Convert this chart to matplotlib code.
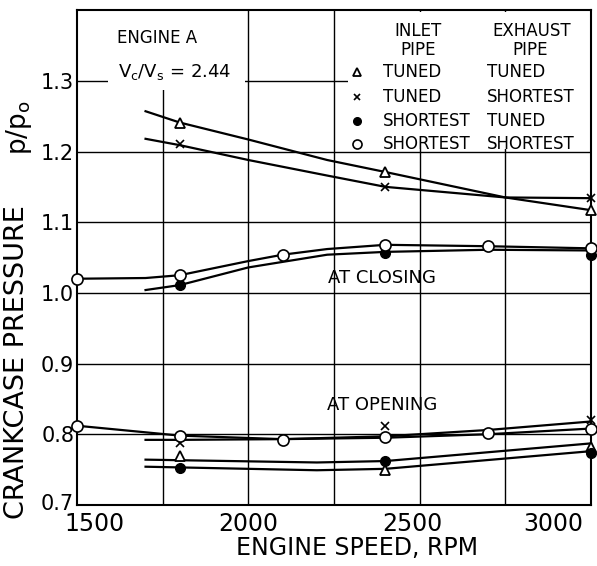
import matplotlib
matplotlib.use("Agg")
import matplotlib.pyplot as plt
from matplotlib.patches import Rectangle
from matplotlib.transforms import ScaledTranslation

plt.rcParams['font.family'] = ['DejaVu Sans']

# ---------------- data ----------------
# AT CLOSING - measured points
cl_tri_x = [1800, 2400, 3000]
cl_tri_y = [1.241, 1.171, 1.117]
cl_x_x = [1800, 2400, 3000]
cl_x_y = [1.210, 1.150, 1.134]
cl_fill_x = [1800, 2400, 3000]
cl_fill_y = [1.011, 1.056, 1.053]
cl_open_x = [1500, 1800, 2100, 2400, 2700, 3000]
cl_open_y = [1.020, 1.025, 1.054, 1.068, 1.066, 1.063]

# AT CLOSING - faired curves
cl_tri_cx = [1700, 1800, 2000, 2230, 2400, 2750, 3000]
cl_tri_cy = [1.257, 1.241, 1.217, 1.188, 1.171, 1.135, 1.117]
cl_x_cx = [1700, 1800, 2000, 2230, 2400, 2750, 3000]
cl_x_cy = [1.218, 1.209, 1.188, 1.166, 1.150, 1.135, 1.134]
cl_open_cx = [1500, 1700, 1800, 2000, 2100, 2230, 2400, 2700, 3000]
cl_open_cy = [1.020, 1.021, 1.025, 1.045, 1.054, 1.062, 1.068, 1.066, 1.063]
cl_fill_cx = [1700, 1800, 2000, 2230, 2400, 2700, 3000]
cl_fill_cy = [1.004, 1.011, 1.036, 1.054, 1.058, 1.061, 1.060]

# AT OPENING - measured points
op_open_x = [1500, 1800, 2100, 2400, 2700, 3000]
op_open_y = [0.812, 0.798, 0.792, 0.796, 0.801, 0.808]
op_x_x = [1800, 2400, 3000]
op_x_y = [0.787, 0.812, 0.820]
op_tri_x = [1800, 2400, 3000]
op_tri_y = [0.769, 0.749, 0.782]
op_fill_x = [1800, 2400, 3000]
op_fill_y = [0.752, 0.762, 0.773]

# AT OPENING - faired curves
op_open_cx = [1500, 1800, 2100, 2400, 2700, 3000]
op_open_cy = [0.812, 0.798, 0.793, 0.795, 0.800, 0.808]
op_x_cx = [1700, 1800, 2100, 2400, 2700, 3000]
op_x_cy = [0.792, 0.792, 0.793, 0.797, 0.806, 0.818]
op_up_cx = [1700, 2200, 2400, 3000]
op_up_cy = [0.764, 0.760, 0.762, 0.787]
op_lo_cx = [1700, 2200, 2400, 3000]
op_lo_cy = [0.754, 0.749, 0.751, 0.776]

x_ticks = [1500, 2000, 2500, 3000]
x_ticklabels = ["1500", "2000", "2500", "3000"]
y_ticks = [0.7, 0.8, 0.9, 1.0, 1.1, 1.2, 1.3]
y_ticklabels = ["0.7", "0.8", "0.9", "1.0", "1.1", "1.2", "1.3"]
x_grid = [1750, 2000, 2250, 2500, 2750]
y_grid = [0.8, 0.9, 1.0, 1.1, 1.2, 1.3]

legend_inlet = ["TUNED", "TUNED", "SHORTEST", "SHORTEST"]
legend_exhaust = ["TUNED", "SHORTEST", "TUNED", "SHORTEST"]

# ---------------- figure ----------------
fig = plt.figure(figsize=(5.97, 5.66), dpi=100)
ax = fig.add_axes([0.129, 0.108, 0.861, 0.874])
ax.set_xlim(1500, 3000)
ax.set_ylim(0.7, 1.4)

for gx in x_grid:
    ax.axvline(gx, color='black', lw=1.0, zorder=0.5)
for gy in y_grid:
    ax.axhline(gy, color='black', lw=1.0, zorder=0.5)

for s in ax.spines.values():
    s.set_linewidth(1.5)

# white areas under text blocks
ax.add_patch(Rectangle((1590, 1.287), 400, 0.113, facecolor='white',
                       edgecolor='none', zorder=1))
ax.add_patch(Rectangle((2290, 1.203), 708, 0.195, facecolor='white',
                       edgecolor='none', zorder=1))

lw = 1.6
for cx, cy in [(cl_tri_cx, cl_tri_cy), (cl_x_cx, cl_x_cy),
               (cl_open_cx, cl_open_cy), (cl_fill_cx, cl_fill_cy),
               (op_open_cx, op_open_cy), (op_x_cx, op_x_cy),
               (op_up_cx, op_up_cy), (op_lo_cx, op_lo_cy)]:
    ax.plot(cx, cy, color='black', lw=lw, zorder=2, clip_on=False)

mk_tri = dict(marker='^', ms=7, mfc='white', mec='black', mew=1.3, ls='none', zorder=3, clip_on=False)
mk_x = dict(marker='x', ms=6, mec='black', mew=1.2, ls='none', zorder=3, clip_on=False)
mk_fill = dict(marker='o', ms=7, mfc='black', mec='black', ls='none', zorder=3, clip_on=False)
mk_open = dict(marker='o', ms=8, mfc='white', mec='black', mew=1.2, ls='none', zorder=3, clip_on=False)

ax.plot(cl_tri_x, cl_tri_y, **mk_tri)
ax.plot(cl_x_x, cl_x_y, **mk_x)
ax.plot(cl_fill_x, cl_fill_y, **mk_fill)
ax.plot(cl_open_x, cl_open_y, **mk_open)
ax.plot(op_tri_x, op_tri_y, **mk_tri)
ax.plot(op_x_x, op_x_y, **mk_x)
ax.plot(op_fill_x, op_fill_y, **mk_fill)
ax.plot(op_open_x, op_open_y, **mk_open)

# ticks
ax.set_xticks(x_ticks)
ax.set_xticklabels(x_ticklabels, fontsize=17)
ax.set_yticks(y_ticks)
ax.set_yticklabels(y_ticklabels, fontsize=15)
ax.tick_params(axis='x', length=0, pad=5)
ax.tick_params(axis='y', length=0, pad=2)
offs = [17, 0, -7, -38]
for lab, o in zip(ax.get_xticklabels(), offs):
    lab.set_transform(lab.get_transform() + ScaledTranslation(o / 100, 0, fig.dpi_scale_trans))
ylabs = ax.get_yticklabels()
ylabs[0].set_transform(ylabs[0].get_transform() + ScaledTranslation(0, 3 / 100, fig.dpi_scale_trans))

# axis labels
fig.text(357 / 597, 1 - 548 / 566, "ENGINE SPEED, RPM", fontsize=17,
         ha='center', va='center')
fig.text(17 / 597, 1 - 362 / 566, "CRANKCASE PRESSURE", fontsize=19.5,
         rotation=90, ha='center', va='center')
fig.text(19 / 597, 1 - 128 / 566, r"p/p$_\mathregular{o}$", fontsize=19,
         rotation=90, ha='center', va='center')

# annotations
ax.text(0.078, 0.943, "ENGINE A", transform=ax.transAxes, fontsize=12,
        ha='left', va='center', zorder=4)
ax.text(0.080, 0.875, r"V$_\mathregular{c}$/V$_\mathregular{s}$ = 2.44",
        transform=ax.transAxes, fontsize=13, ha='left', va='center', zorder=4)
ax.text(0.488, 0.459, "AT CLOSING", transform=ax.transAxes, fontsize=13,
        ha='left', va='center', zorder=4)
ax.text(0.486, 0.202, "AT OPENING", transform=ax.transAxes, fontsize=13,
        ha='left', va='center', zorder=4)

# legend table
ax.text(0.663, 0.958, "INLET", transform=ax.transAxes, fontsize=12, ha='center', va='center', zorder=4)
ax.text(0.663, 0.919, "PIPE", transform=ax.transAxes, fontsize=12, ha='center', va='center', zorder=4)
ax.text(0.885, 0.958, "EXHAUST", transform=ax.transAxes, fontsize=12, ha='center', va='center', zorder=4)
ax.text(0.881, 0.919, "PIPE", transform=ax.transAxes, fontsize=12, ha='center', va='center', zorder=4)
rows_y = [0.875, 0.824, 0.776, 0.729]
legend_marks = [mk_tri, mk_x, mk_fill, mk_open]
for ry, inl, exh, mk in zip(rows_y, legend_inlet, legend_exhaust, legend_marks):
    m = dict(mk)
    m['ms'] = m['ms'] - 1.5
    ax.plot([0.545], [ry], transform=ax.transAxes, **m)
    ax.text(0.595, ry, inl, transform=ax.transAxes, fontsize=12, ha='left', va='center', zorder=4)
    ax.text(0.798, ry, exh, transform=ax.transAxes, fontsize=12, ha='left', va='center', zorder=4)

fig.savefig("out.png", dpi=100)
